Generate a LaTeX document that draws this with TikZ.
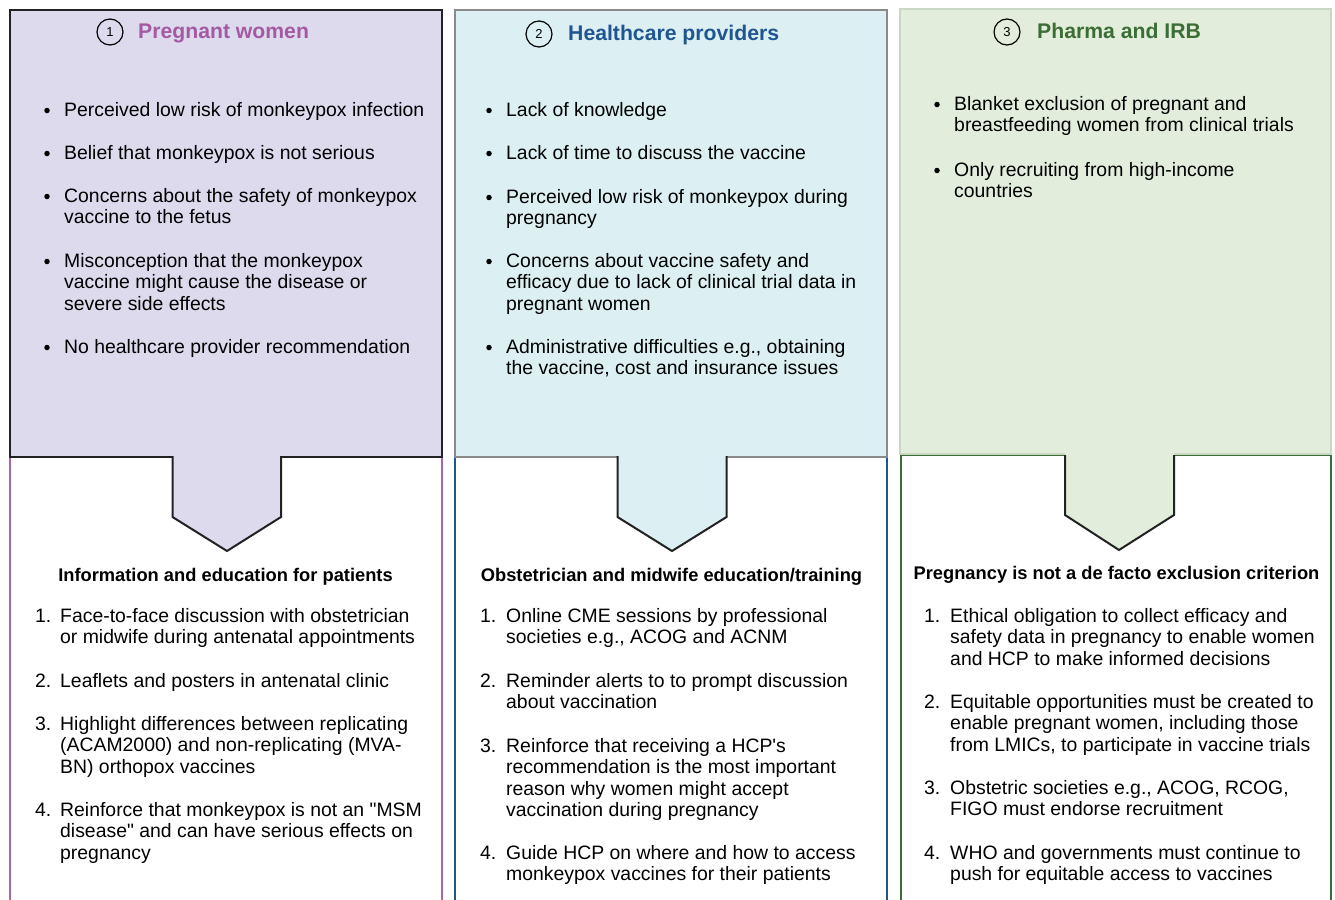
\documentclass[tikz,border=0pt]{standalone}
\usepackage{fontspec}
\setmainfont{Liberation Sans}
\definecolor{lav}{HTML}{DDDAEE}
\definecolor{purp}{HTML}{A35AA3}
\definecolor{purpline}{HTML}{A866A8}
\definecolor{cyanf}{HTML}{DCEFF3}
\definecolor{blueb}{HTML}{1F5591}
\definecolor{greenf}{HTML}{E3EDDC}
\definecolor{greent}{HTML}{3B6E34}
\definecolor{greenb}{HTML}{3A6B35}
\definecolor{greenl}{HTML}{C8D8C2}
\definecolor{darkb}{HTML}{222222}
\definecolor{grayb}{HTML}{8A8A8A}
\newcommand\para[1]{\parbox[t]{520pt}{\raggedright #1}}
\tikzset{
 body/.style={anchor=base west, inner sep=0, font=\fontsize{19.4}{21.5}\selectfont},
 bul/.style={circle, fill=black, inner sep=0, minimum size=5.5pt},
 head/.style={anchor=base, inner sep=0, font=\bfseries\fontsize{18.3}{21}\selectfont},
 ttl/.style={anchor=base west, inner sep=0, font=\bfseries\fontsize{21.2}{24}\selectfont},
 numc/.style={circle, draw=black, line width=1.2pt, minimum size=26pt, inner sep=0, font=\fontsize{13}{13}\selectfont},
 boxline/.style={line width=2pt},
 arrowline/.style={line width=2pt, draw=darkb, line join=miter},
}
\begin{document}
\begin{tikzpicture}[x=1pt,y=-1pt]
\useasboundingbox (0,0) rectangle (1335,899);
\fill[white] (0,0) rectangle (1335,899);

% ---------- column 1 ----------
\draw[boxline, purpline] (10,900) -- (10,457) -- (442,457) -- (442,900);
\draw[boxline, darkb, fill=lav] (10,10) rectangle (442,457);
\fill[lav] (172.5,455.5) -- (172.5,517) -- (227,551) -- (281,517) -- (281,455.5) -- cycle;
\draw[arrowline] (172.5,456) -- (172.5,517) -- (227,551) -- (281,517) -- (281,456);

% ---------- column 2 ----------
\draw[boxline, blueb] (455,900) -- (455,457) -- (887,457) -- (887,900);
\draw[boxline, grayb, fill=cyanf] (455,10) rectangle (887,457);
\fill[cyanf] (617.5,455.5) -- (617.5,517) -- (672,551) -- (726.5,517) -- (726.5,455.5) -- cycle;
\draw[arrowline] (617.5,456) -- (617.5,517) -- (672,551) -- (726.5,517) -- (726.5,456);

% ---------- column 3 ----------
\draw[boxline, greenb] (901,900) -- (901,455) -- (1331,455) -- (1331,900);
\draw[boxline, greenl, fill=greenf] (900,9) rectangle (1331,454);
\fill[greenf] (1065,453) -- (1065,515) -- (1119,550) -- (1174,515) -- (1174,453) -- cycle;
\draw[arrowline] (1065,455) -- (1065,515) -- (1119,550) -- (1174,515) -- (1174,455);

% ---------- titles ----------
\node[numc] (c1) at (110,32) {1};
\node[ttl, text=purp] (t1) at (138,39) {Pregnant women};
\node[numc] (c2) at (539,34) {2};
\node[ttl, text=blueb] (t2) at (568,41) {Healthcare providers};
\node[numc] (c3) at (1007,32) {3};
\node[ttl, text=greent] (t3) at (1037,39) {Pharma and IRB};

% ---------- column 1 bullets ----------
\node[bul] (d11) at (47,110.5) {};
\node[body] (p11) at (64,116) {\para{Perceived low risk of monkeypox infection}};
\node[bul] (d12) at (47,153.5) {};
\node[body] (p12) at (64,159) {\para{Belief that monkeypox is not serious}};
\node[bul] (d13) at (47,196.5) {};
\node[body] (p13) at (64,202) {\para{Concerns about the safety of monkeypox\\vaccine to the fetus}};
\node[bul] (d14) at (47,261.5) {};
\node[body] (p14) at (64,267) {\para{Misconception that the monkeypox\\vaccine might cause the disease or\\severe side effects}};
\node[bul] (d15) at (47,347.5) {};
\node[body] (p15) at (64,353) {\para{No healthcare provider recommendation}};

% ---------- column 2 bullets ----------
\node[bul] (d21) at (489,110.5) {};
\node[body] (p21) at (506,116) {\para{Lack of knowledge}};
\node[bul] (d22) at (489,153.5) {};
\node[body] (p22) at (506,159) {\para{Lack of time to discuss the vaccine}};
\node[bul] (d23) at (489,197.5) {};
\node[body] (p23) at (506,203) {\para{Perceived low risk of monkeypox during\\pregnancy}};
\node[bul] (d24) at (489,261.5) {};
\node[body] (p24) at (506,267) {\para{Concerns about vaccine safety and\\efficacy due to lack of clinical trial data in\\pregnant women}};
\node[bul] (d25) at (489,347.5) {};
\node[body] (p25) at (506,353) {\para{Administrative difficulties e.g., obtaining\\the vaccine, cost and insurance issues}};

% ---------- column 3 bullets ----------
\node[bul] (d31) at (937,104.5) {};
\node[body] (p31) at (954,110) {\para{Blanket exclusion of pregnant and\\breastfeeding women from clinical trials}};
\node[bul] (d32) at (937,170.5) {};
\node[body] (p32) at (954,176) {\para{Only recruiting from high-income\\countries}};

% ---------- headings ----------
\node[head] (h1) at (225.5,581) {Information and education for patients};
\node[head] (h2) at (671.5,581) {Obstetrician and midwife education/training};
\node[head] (h3) at (1116.5,579) {Pregnancy is not a de facto exclusion criterion};

% ---------- column 1 numbered ----------
\node[body] (n11) at (35,622) {1.};
\node[body] (q11) at (60,622) {\para{Face-to-face discussion with obstetrician\\or midwife during antenatal appointments}};
\node[body] (n12) at (35,687) {2.};
\node[body] (q12) at (60,687) {\para{Leaflets and posters in antenatal clinic}};
\node[body] (n13) at (35,730) {3.};
\node[body] (q13) at (60,730) {\para{Highlight differences between replicating\\(ACAM2000) and non-replicating (MVA-\\BN) orthopox vaccines}};
\node[body] (n14) at (35,816) {4.};
\node[body] (q14) at (60,816) {\para{Reinforce that monkeypox is not an \textquotedbl MSM\\disease\textquotedbl{} and can have serious effects on\\pregnancy}};

% ---------- column 2 numbered ----------
\node[body] (n21) at (480,622) {1.};
\node[body] (q21) at (506,622) {\para{Online CME sessions by professional\\societies e.g., ACOG and ACNM}};
\node[body] (n22) at (480,687) {2.};
\node[body] (q22) at (506,687) {\para{Reminder alerts to to prompt discussion\\about vaccination}};
\node[body] (n23) at (480,752) {3.};
\node[body] (q23) at (506,752) {\para{Reinforce that receiving a HCP\textquotesingle s\\recommendation is the most important\\reason why women might accept\\vaccination during pregnancy}};
\node[body] (n24) at (480,859) {4.};
\node[body] (q24) at (506,859) {\para{Guide HCP on where and how to access\\monkeypox vaccines for their patients}};

% ---------- column 3 numbered ----------
\node[body] (n31) at (924,622) {1.};
\node[body] (q31) at (950,622) {\para{Ethical obligation to collect efficacy and\\safety data in pregnancy to enable women\\and HCP to make informed decisions}};
\node[body] (n32) at (924,708) {2.};
\node[body] (q32) at (950,708) {\para{Equitable opportunities must be created to\\enable pregnant women, including those\\from LMICs, to participate in vaccine trials}};
\node[body] (n33) at (924,794) {3.};
\node[body] (q33) at (950,794) {\para{Obstetric societies e.g., ACOG, RCOG,\\FIGO must endorse recruitment}};
\node[body] (n34) at (924,859) {4.};
\node[body] (q34) at (950,859) {\para{WHO and governments must continue to\\push for equitable access to vaccines}};
\end{tikzpicture}
\end{document}
